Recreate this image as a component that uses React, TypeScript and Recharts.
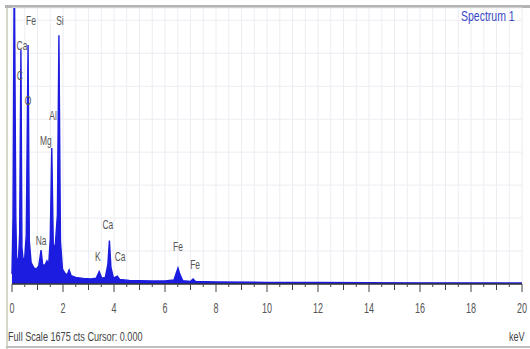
import { ComposedChart, Area, XAxis, YAxis, CartesianGrid, ReferenceDot } from 'recharts'

// spectrum (keV, counts)
const ENERGY = [
  0.0, 0.04, 0.08, 0.1, 0.15, 0.18, 0.22, 0.26, 0.3, 0.35, 0.39, 0.44, 0.5, 0.56, 0.63, 0.68, 0.75, 0.85, 0.95,
  1.05, 1.14, 1.2, 1.28, 1.37, 1.44, 1.5, 1.56, 1.62, 1.7, 1.78, 1.84, 1.9, 1.98, 2.08, 2.16, 2.24, 2.32,
  2.5, 2.8, 3.1, 3.3, 3.42, 3.52, 3.66, 3.76, 3.82, 3.88, 3.98, 4.13, 4.22, 4.6, 5.0, 5.5, 6.0, 6.35, 6.45,
  6.51, 6.58, 6.7, 7.0, 7.1, 7.2, 8.0, 10.0, 12.0, 14.0, 16.0, 18.0, 20.0,
]
const COUNTS = [
  60, 400, 1700, 1700, 400, 160, 130, 170, 300, 1420, 220, 140, 160, 300, 1450, 260, 130, 100, 90,
  110, 206, 120, 110, 140, 120, 270, 826, 220, 240, 420, 1510, 260, 90, 65, 55, 85, 50,
  40, 34, 30, 35, 75, 35, 40, 120, 263, 100, 35, 48, 28, 22, 20, 18, 18, 25, 70,
  97, 60, 20, 15, 30, 15, 12, 10, 9, 8, 7, 7, 6,
]

// element markers
const PEAK_NAMES = ['Fe', 'Si', 'Ca', 'C', 'O', 'Al', 'Mg', 'Na', 'Ca', 'K', 'Ca', 'Fe', 'Fe']
const PEAK_KEV = [0.745, 1.88, 0.39, 0.31, 0.63, 1.61, 1.33, 1.14, 3.76, 3.37, 4.24, 6.51, 7.18]
const PEAK_LABEL_CTS = [1602, 1602, 1450, 1268, 1117, 1026, 874, 267, 364, 170, 170, 231, 121]

const X_TICKS = [0, 2, 4, 6, 8, 10, 12, 14, 16, 18, 20]
const FULL_SCALE = 1675

const FONT = '"Liberation Sans", Arial, sans-serif'

const data = ENERGY.map((e, i) => ({ kev: e, cts: COUNTS[i] }))

// minor ticks every 0.5 keV, labels on the even ones
const minorTicks: number[] = []
for (let i = 0; i <= 40; i++) minorTicks.push(i / 2)

const AxisTick = ({ x, y, payload }: any) => {
  const v = payload.value as number
  const major = X_TICKS.includes(v)
  const whole = Number.isInteger(v)
  return (
    <g>
      <line x1={x} x2={x} y1={y} y2={y + (major ? 8 : whole ? 6 : 3)} stroke="#444" strokeWidth={1} />
      {major && (
        <text
          transform={`translate(${x},${y + 29}) scale(0.6,1)`}
          textAnchor="middle"
          fontSize={15}
          fill="#555"
          fontFamily={FONT}
        >
          {v}
        </text>
      )}
    </g>
  )
}

const PeakLabel = (text: string) => (props: any) => (
  <text
    transform={`translate(${props.cx},${props.cy}) scale(0.65,1)`}
    textAnchor="middle"
    dominantBaseline="central"
    fontSize={13}
    fill="#555"
    fontFamily={FONT}
  >
    {text}
  </text>
)

const narrow = {
  position: 'absolute' as const,
  fontFamily: FONT,
  whiteSpace: 'nowrap' as const,
  transform: 'scaleX(0.7)',
  transformOrigin: 'left top',
}

export default function App() {
  return (
    <div style={{ position: 'relative', width: 530, height: 349, background: '#fff', overflow: 'hidden' }}>
      <style>{'body{margin:0}'}</style>
      <div style={{ position: 'absolute', left: 5, right: 0, top: 5, height: 3, background: '#b4b4b4' }} />
      <div style={{ position: 'absolute', left: 6, top: 8, bottom: 0, width: 2, background: '#d8d8c8' }} />
      <div style={{ position: 'absolute', left: 6, right: 0, bottom: 1, height: 2, background: '#c0c0c0' }} />
      <ComposedChart
        width={530}
        height={325}
        data={data}
        margin={{ top: 8, right: 8, left: 12, bottom: 0 }}
        style={{ position: 'absolute', left: 0, top: 0 }}
      >
        <CartesianGrid stroke="#ececf3" strokeWidth={1} />
        <XAxis
          dataKey="kev"
          type="number"
          domain={[0, 20]}
          ticks={minorTicks}
          interval={0}
          height={41}
          tickLine={false}
          tickSize={0}
          tickMargin={0}
          tick={<AxisTick />}
          axisLine={{ stroke: '#333', strokeWidth: 1.5 }}
        />
        <YAxis
          hide
          type="number"
          domain={[0, FULL_SCALE]}
          allowDataOverflow
          ticks={[0, 100, 200, 300, 400, 500, 600, 700, 800, 900, 1000, 1100, 1200, 1300, 1400, 1500, 1600]}
        />
        <Area
          type="linear"
          dataKey="cts"
          stroke="#1c1ce0"
          strokeWidth={1.4}
          fill="#1c1ce0"
          fillOpacity={1}
          isAnimationActive={false}
          dot={false}
          activeDot={false}
        />
        {PEAK_NAMES.map((name, i) => (
          <ReferenceDot
            key={`peak-${i}`}
            x={PEAK_KEV[i]}
            y={PEAK_LABEL_CTS[i]}
            r={0}
            ifOverflow="visible"
            shape={PeakLabel(name)}
          />
        ))}
      </ComposedChart>
      <div style={{ ...narrow, left: 461, top: 7, fontSize: 15, color: '#3848c8' }}>Spectrum 1</div>
      <div style={{ ...narrow, left: 8, top: 329, fontSize: 13, color: '#444' }}>
        Full Scale 1675 cts Cursor: 0.000
      </div>
      <div style={{ ...narrow, left: 509, top: 329, fontSize: 13, color: '#444' }}>keV</div>
    </div>
  )
}
